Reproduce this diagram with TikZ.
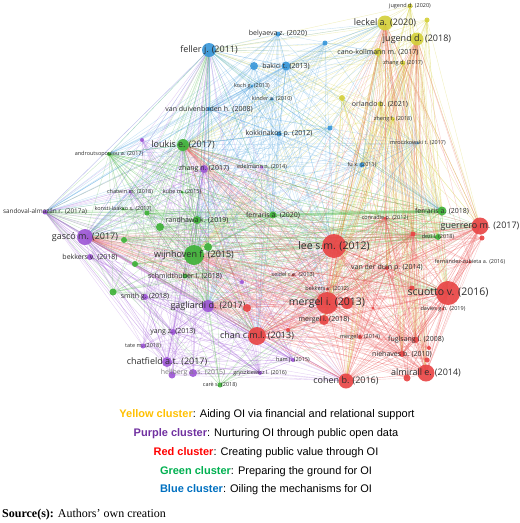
\documentclass[tikz,border=0pt]{standalone}
\usepackage{fontspec}
\setmainfont{Liberation Serif}
\setsansfont{Open Sans}
\newfontfamily\legendfont{Liberation Sans}
\usetikzlibrary{backgrounds}

\definecolor{yelnode}{RGB}{212,208,60}
\definecolor{blunode}{RGB}{58,152,218}
\definecolor{purnode}{RGB}{158,88,214}
\definecolor{rednode}{RGB}{232,70,70}
\definecolor{grnnode}{RGB}{64,178,58}
\definecolor{lblgrey}{RGB}{45,45,45}
\definecolor{legyellow}{RGB}{255,192,0}
\definecolor{legpurple}{RGB}{112,48,160}
\definecolor{legred}{RGB}{255,0,0}
\definecolor{leggreen}{RGB}{0,176,80}
\definecolor{legblue}{RGB}{0,112,192}

\begin{document}
\begin{tikzpicture}[
x=1pt, y=-1pt,
pub/.style={circle, inner sep=0pt, draw=none, fill opacity=0.92},
ypub/.style={pub, fill=yelnode},
bpub/.style={pub, fill=blunode},
ppub/.style={pub, fill=purnode},
gpub/.style={pub, fill=grnnode},
rpub/.style={pub, fill=rednode},
lblL/.style={text=lblgrey, inner sep=0pt, font=\sffamily\fontsize{10.5}{12}\selectfont},
lblM/.style={text=lblgrey, inner sep=0pt, font=\sffamily\fontsize{9}{10}\selectfont},
lblS/.style={text=lblgrey, inner sep=0pt, font=\sffamily\fontsize{7}{8}\selectfont},
lblXS/.style={text=lblgrey, inner sep=0pt, font=\sffamily\fontsize{5.5}{6}\selectfont},
edge/.style={line width=0.4pt, draw opacity=0.32},
yedge/.style={edge, draw=yelnode},
bedge/.style={edge, draw=blunode!85!white},
pedge/.style={edge, draw=purnode!85!white},
gedge/.style={edge, draw=grnnode!85!white},
redge/.style={edge, draw=rednode!85!white},
legend/.style={font=\legendfont\fontsize{11}{13}\selectfont, inner sep=0pt}
]
\useasboundingbox (0,0) rectangle (520,523);

% yellow cluster
\node[ypub, minimum size=5pt, label={[lblXS]center:jugend d. (2020)}] (jug20) at (410,6) {};
\node[ypub, minimum size=5pt] (yel1) at (427,20) {};
\node[ypub, minimum size=15pt, label={[lblM]center:leckel a. (2020)}] (leckel) at (385,23) {};
\node[ypub, minimum size=13pt, label={[lblM]center:jugend d. (2018)}] (jug18) at (417,39) {};
\node[ypub, minimum size=8pt, label={[lblS]center:cano-kollmann m. (2017)}] (cano) at (378,52) {};
\node[ypub, minimum size=5pt, label={[lblXS]center:zhang d. (2017)}] (zhangd) at (403,63) {};
\node[ypub, minimum size=6pt] (yel2) at (342,98) {};
\node[ypub, minimum size=5pt, label={[lblS]center:orlando b. (2021)}] (orlando) at (380,104) {};
\node[ypub, minimum size=4pt, label={[lblXS]center:zheng f. (2018)}] (zhengf) at (393,119) {};

% blue cluster
\node[bpub, minimum size=14pt, label={[lblM]center:feller j. (2011)}] (feller) at (209,50) {};
\node[bpub, minimum size=5pt, label={[lblS]center:belyaeva z. (2020)}] (belya) at (278,34) {};
\node[bpub, minimum size=5pt] (parv) at (325,43) {};
\node[bpub, minimum size=9pt, label={[lblS]center:bakici t. (2013)}] (bakici) at (286,66) {};
\node[bpub, minimum size=8pt] (blu1) at (254,66) {};
\node[bpub, minimum size=3pt, label={[lblXS]center:koch g. (2013)}] (koch) at (252,86) {};
\node[bpub, minimum size=3pt, label={[lblXS]center:kinder a. (2010)}] (kinder) at (272,99) {};
\node[bpub, minimum size=4pt, label={[lblS]center:van duivenboden h. (2008)}] (vandui) at (209,109) {};
\node[bpub, minimum size=5pt, label={[lblS]center:kokkinakos p. (2012)}] (kokkin) at (279,134) {};
\node[bpub, minimum size=5pt] (blu2) at (330,128) {};
\node[bpub, minimum size=5pt, label={[lblXS]center:fu x. (2011)}] (fu) at (362,165) {};
\node[bpub, minimum size=2pt, label={[lblXS]center:mroczkowski t. (2017)}] (mrocz) at (418,143) {};

% purple cluster
\node[ppub, minimum size=4pt] (baum) at (142,140) {};
\node[ppub, minimum size=8pt, label={[lblS]center:zhang n. (2017)}] (zhangn) at (204,169) {};
\node[ppub, minimum size=3pt, label={[lblXS]center:edelmann n. (2014)}] (edelmann) at (262,167) {};
\node[ppub, minimum size=3pt, label={[lblXS]center:chatwin m. (2018)}] (chatwin) at (130,192) {};
\node[ppub, minimum size=5pt, label={[lblS, font=\sffamily\fontsize{6.4}{7}\selectfont]center:sandoval-almazán r. (2017a)}] (sandoval) at (45,212) {};
\node[ppub, minimum size=16pt, label={[lblM]center:gascó m. (2017)}] (gasco) at (85,237) {};
\node[ppub, minimum size=6pt, label={[lblS]center:bekkers v. (2018)}] (bekk18) at (90,257) {};
\node[ppub, minimum size=6pt, label={[lblS]center:smith g. (2018)}] (smith) at (145,297) {};
\node[ppub, minimum size=4pt] (mainka) at (242,282) {};
\node[ppub, minimum size=12pt, label={[lblM]center:gagliardi d. (2017)}] (gagliardi) at (208,306) {};
\node[ppub, minimum size=6pt, label={[lblS]center:yang z. (2013)}] (yang) at (173,332) {};
\node[ppub, minimum size=5pt, label={[lblXS]center:tate m. (2018)}] (tate) at (143,346) {};
\node[ppub, minimum size=10pt, label={[lblM]center:chatfield a.t. (2017)}] (chatfield) at (167,362) {};
\node[ppub, minimum size=7pt] (pur1) at (172,375) {};
\node[ppub, minimum size=8pt, label={[lblS, text=gray]center:hellberg a.-s. (2015)}] (hellberg) at (193,373) {};
\node[ppub, minimum size=4pt, label={[lblXS]center:gryszkiewicz l. (2016)}] (gryszk) at (260,373) {};
\node[ppub, minimum size=4pt, label={[lblXS]center:ham j. (2015)}] (ham) at (293,360) {};

% green cluster
\node[gpub, minimum size=12pt, label={[lblM]center:loukis e. (2017)}] (loukis) at (183,145) {};
\node[gpub, minimum size=4pt, label={[lblXS]center:androutsopoulou a. (2017)}] (andr) at (109,154) {};
\node[gpub, minimum size=3pt, label={[lblXS]center:kube m. (2015)}] (kube) at (182,192) {};
\node[gpub, minimum size=3pt, label={[lblXS]center:konsti-laakso s. (2017)}] (konsti) at (123,209) {};
\node[gpub, minimum size=5pt] (gr0) at (147,213) {};
\node[gpub, minimum size=8pt, label={[lblS]center:randhawa k. (2019)}] (randhawa) at (197,220) {};
\node[gpub, minimum size=8pt] (gr1) at (160,227) {};
\node[gpub, minimum size=6pt] (gr2) at (124,240) {};
\node[gpub, minimum size=20pt, label={[lblM]center:wijnhoven f. (2015)}] (wijn) at (194,255) {};
\node[gpub, minimum size=8pt] (gr3) at (208,247) {};
\node[gpub, minimum size=6pt] (gr4) at (135,264) {};
\node[gpub, minimum size=5pt, label={[lblS]center:schmidthuber l. (2018)}] (schmid) at (185,276) {};
\node[gpub, minimum size=7pt] (gr5) at (113,292) {};
\node[gpub, minimum size=5pt, label={[lblXS]center:carè s. (2018)}] (care) at (220,385) {};
\node[gpub, minimum size=7pt, label={[lblS]center:ferraris a. (2020)}] (ferr20) at (273,215) {};
\node[gpub, minimum size=9pt, label={[lblS]center:ferraris a. (2018)}] (ferr18) at (442,211) {};
\node[gpub, minimum size=6pt, label={[lblXS]center:dezi l. (2018)}] (dezi) at (438,237) {};

% red cluster
\node[rpub, minimum size=24pt, label={[lblL]center:lee s.m. (2012)}] (lee) at (334,246) {};
\node[rpub, minimum size=3pt, label={[lblXS]center:conradie p. (2012)}] (conradie) at (385,218) {};
\node[rpub, minimum size=5pt] (red1) at (413,234) {};
\node[rpub, minimum size=17pt, label={[lblM]center:guerrero m. (2017)}] (guerrero) at (480,226) {};
\node[rpub, minimum size=5pt] (red2) at (482,238) {};
\node[rpub, minimum size=3pt, label={[lblXS]center:fernández-zubieta a. (2016)}] (fernandez) at (470,262) {};
\node[rpub, minimum size=4pt, label={[lblS]center:van der duin p. (2014)}] (vdduin) at (387,268) {};
\node[rpub, minimum size=5pt] (red3) at (412,288) {};
\node[rpub, minimum size=24pt, label={[lblL]center:scuotto v. (2016)}] (scuotto) at (448,293) {};
\node[rpub, minimum size=3pt, label={[lblXS]center:davies g.h. (2019)}] (davies) at (443,309) {};
\node[rpub, minimum size=3pt, label={[lblXS]center:seidel c.e. (2013)}] (seidel) at (293,275) {};
\node[rpub, minimum size=3pt, label={[lblXS]center:bekkers v. (2012)}] (bekk12) at (327,289) {};
\node[rpub, minimum size=12pt] (red4) at (347,303) {};
\node[rpub, minimum size=22pt, label={[lblL]center:mergel i. (2013)}] (mergel13) at (327,303) {};
\node[rpub, minimum size=10pt, label={[lblS]center:mergel i. (2018)}] (mergel18) at (324,320) {};
\node[rpub, minimum size=3pt] (red6) at (373,308) {};
\node[rpub, minimum size=4pt, label={[lblXS]center:mergel i. (2014)}] (mergel14) at (360,337) {};
\node[rpub, minimum size=6pt, label={[lblS]center:fuglsang l. (2008)}] (fuglsang) at (416,340) {};
\node[rpub, minimum size=4pt] (red9) at (429,348) {};
\node[rpub, minimum size=6pt, label={[lblS]center:niehaves b. (2010)}] (niehaves) at (402,354) {};
\node[rpub, minimum size=5pt] (pinto) at (427,360) {};
\node[rpub, minimum size=7pt] (red5) at (407,378) {};
\node[rpub, minimum size=17pt, label={[lblM]center:almirall e. (2014)}] (almirall) at (426,373) {};
\node[rpub, minimum size=15pt, label={[lblM]center:cohen b. (2016)}] (cohen) at (346,381) {};
\node[rpub, minimum size=18pt, label={[lblM]center:chan c.m.l. (2013)}] (chan) at (257,336) {};
\node[rpub, minimum size=4pt] (red7) at (288,330) {};
\node[rpub, minimum size=8pt] (red8) at (247,308) {};

% links
\begin{pgfonlayer}{background}
\foreach \a in {jug20,yel1,leckel,jug18,cano,zhangd,yel2,orlando,zhengf}
  \foreach \b in {lee,mergel13,scuotto,guerrero,almirall,cohen,ferr18,dezi,bakici,feller,wijn,fu,vdduin,fuglsang,red1,mergel18,niehaves,loukis}
    \draw[yedge] (\a.center) -- (\b.center);
\foreach \a in {feller,belya,parv,bakici,blu1,koch,kinder,vandui,kokkin,blu2,fu,mrocz}
  \foreach \b in {lee,mergel13,wijn,gasco,loukis,sandoval,andr,ferr20,randhawa,leckel,cano,chan,gagliardi,vandui,feller,bakici,ferr18,kokkin,zhangn}
    \draw[bedge] (\a.center) -- (\b.center);
\foreach \a in {baum,zhangn,chatwin,sandoval,gasco,bekk18,smith,mainka,gagliardi,yang,tate,chatfield,hellberg,pur1,gryszk,ham,edelmann}
  \foreach \b in {lee,mergel13,chan,gagliardi,gasco,sandoval,chatfield,wijn,loukis,cohen,feller,ham,gryszk,smith,yang,zhangn,randhawa}
    \draw[pedge] (\a.center) -- (\b.center);
\foreach \a in {loukis,andr,kube,konsti,gr0,randhawa,gr1,gr2,wijn,gr3,gr4,schmid,gr5,care,ferr20,ferr18,dezi}
  \foreach \b in {lee,wijn,loukis,randhawa,ferr18,dezi,ferr20,gasco,andr,feller,mergel13,scuotto,guerrero,chan,gagliardi,sandoval}
    \draw[gedge] (\a.center) -- (\b.center);
\foreach \a in {lee,conradie,red1,guerrero,red2,fernandez,vdduin,red3,scuotto,davies,seidel,bekk12,mergel13,red4,mergel18,red6,mergel14,fuglsang,red9,niehaves,pinto,almirall,red5,cohen,chan,red7,red8}
  \foreach \b in {lee,mergel13,scuotto,almirall,cohen,guerrero,chan,wijn,gasco,fuglsang,niehaves,conradie,leckel,jug18,vdduin,gagliardi,loukis,red1}
    \draw[redge] (\a.center) -- (\b.center);
\draw[gedge, line width=2.5pt, draw opacity=0.45] (ferr20.center) -- (ferr18.center);
\end{pgfonlayer}

% legend
\node[legend] (leg1) at (267,415) {{\bfseries\color{legyellow}Yellow cluster}: Aiding OI via financial and relational support};
\node[legend] (leg2) at (266,434) {{\bfseries\color{legpurple}Purple cluster}: Nurturing OI through public open data};
\node[legend] (leg3) at (266,453) {{\bfseries\color{legred}Red cluster}: Creating public value through OI};
\node[legend] (leg4) at (266,472) {{\bfseries\color{leggreen}Green cluster}: Preparing the ground for OI};
\node[legend] (leg5) at (266,490) {{\bfseries\color{legblue}Blue cluster}: Oiling the mechanisms for OI};
\node[anchor=west, inner sep=0pt, font=\fontsize{12}{14}\selectfont] (src) at (2,515) {\textbf{Source(s):} Authors’ own creation};

\end{tikzpicture}
\end{document}
